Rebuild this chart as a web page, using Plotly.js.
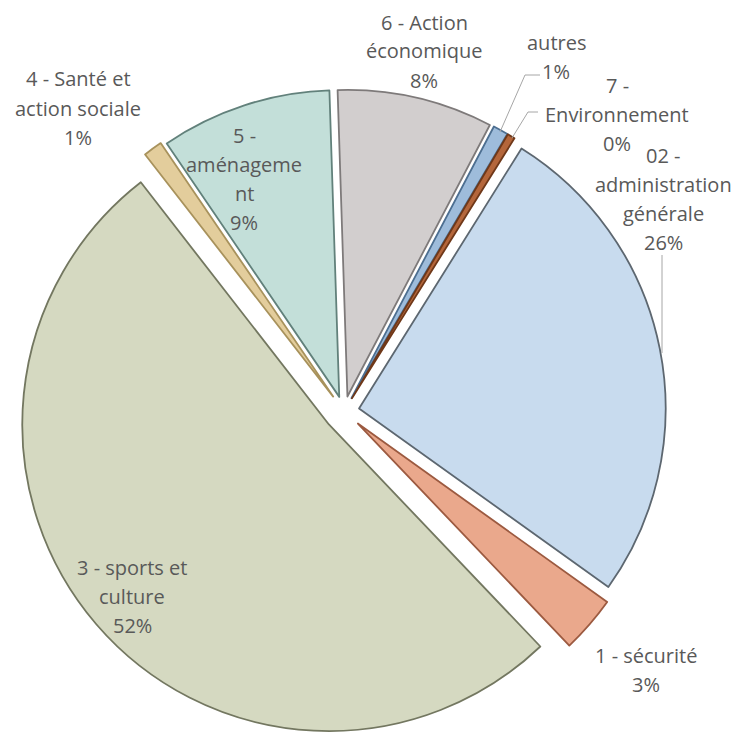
<!DOCTYPE html>
<html><head><meta charset="utf-8">
<script src="https://cdn.plot.ly/plotly-3.0.1.min.js"></script>
<style>html,body{margin:0;padding:0;background:#fff}#chart{width:738px;height:738px}</style>
</head><body><div id="chart"></div>
<script>
// Data (clockwise order, first slice starting at ~32°)
const categories = ['02 - administration générale', '1 - sécurité', '3 - sports et culture',
  '4 - Santé et action sociale', '5 - aménagement', '6 - Action économique', 'autres', '7 - Environnement'];
const values = [26, 3, 51.6, 1, 9, 8.2, 0.8, 0.4];
const labelLines = [['02 -', 'administration', 'générale'], ['1 - sécurité'], ['3 - sports et', 'culture'],
  ['4 - Santé et', 'action sociale'], ['5 -', 'aménageme', 'nt'], ['6 - Action', 'économique'], ['autres'], ['7 -', 'Environnement']];

// Styles / layout helpers
const fills = ['#c8dbee', '#eaa88c', '#d5d9c1', '#e3cd9c', '#c3dfd9', '#d2cece', '#9ebcdb', '#b4663b'];
const edges = ['#5d6770', '#9c5a40', '#737760', '#a8925c', '#62817b', '#7e7a7a', '#4d6f91', '#6f3819'];
const pulls = [0.05, 0.06, 0.065, 0.06, 0.05, 0.05, 0.05, 0.05];
const labelPos = [[663,199],[646,670],[132,596],[78,108],[244,179],[424,51],[556,57],[617,114]];
const lineGap = 29;
const leaders = [
  [[540,75],[525,75],[500,132]],
  [[538,112],[528,112],[512,138]],
  [[662,255],[662,353]]
];
const W = 738, H = 738;
const px = x => x / W, py = y => 1 - y / H;

const total = values.reduce((a, b) => a + b, 0);
const annotations = [];
values.forEach((v, i) => {
  const lines = labelLines[i].concat([Math.round(v / total * 100) + '%']);
  const n = lines.length;
  lines.forEach((t, k) => {
    annotations.push({
      xref: 'paper', yref: 'paper', x: px(labelPos[i][0]),
      y: py(labelPos[i][1] + (k - (n - 1) / 2) * lineGap),
      xanchor: 'center', yanchor: 'middle', showarrow: false, text: t,
      font: {family: 'Open Sans', size: 20, color: '#595959'}
    });
  });
});
const shapes = leaders.map(pts => ({
  type: 'path', xref: 'paper', yref: 'paper',
  path: pts.map((p, j) => (j ? 'L ' : 'M ') + px(p[0]) + ',' + py(p[1])).join(' '),
  line: {color: '#a6a6a6', width: 1}
}));

const maxPull = Math.max(...pulls);
const D = 2 * 309 * (1 + maxPull), cx = 344, cy = 414;
const trace = {
  type: 'pie', labels: categories, values: values, sort: false,
  direction: 'clockwise', rotation: 32, pull: pulls,
  textinfo: 'none', hoverinfo: 'label+percent',
  marker: {colors: fills, line: {color: edges, width: 1.8}},
  domain: {x: [px(cx - D/2), px(cx + D/2)], y: [Math.max(0, py(cy + D/2)), py(cy - D/2)]}
};
Plotly.newPlot('chart', [trace], {
  width: W, height: H, margin: {l: 0, r: 0, t: 0, b: 0},
  showlegend: false, paper_bgcolor: '#ffffff',
  annotations: annotations, shapes: shapes
}, {staticPlot: true});
</script></body></html>
